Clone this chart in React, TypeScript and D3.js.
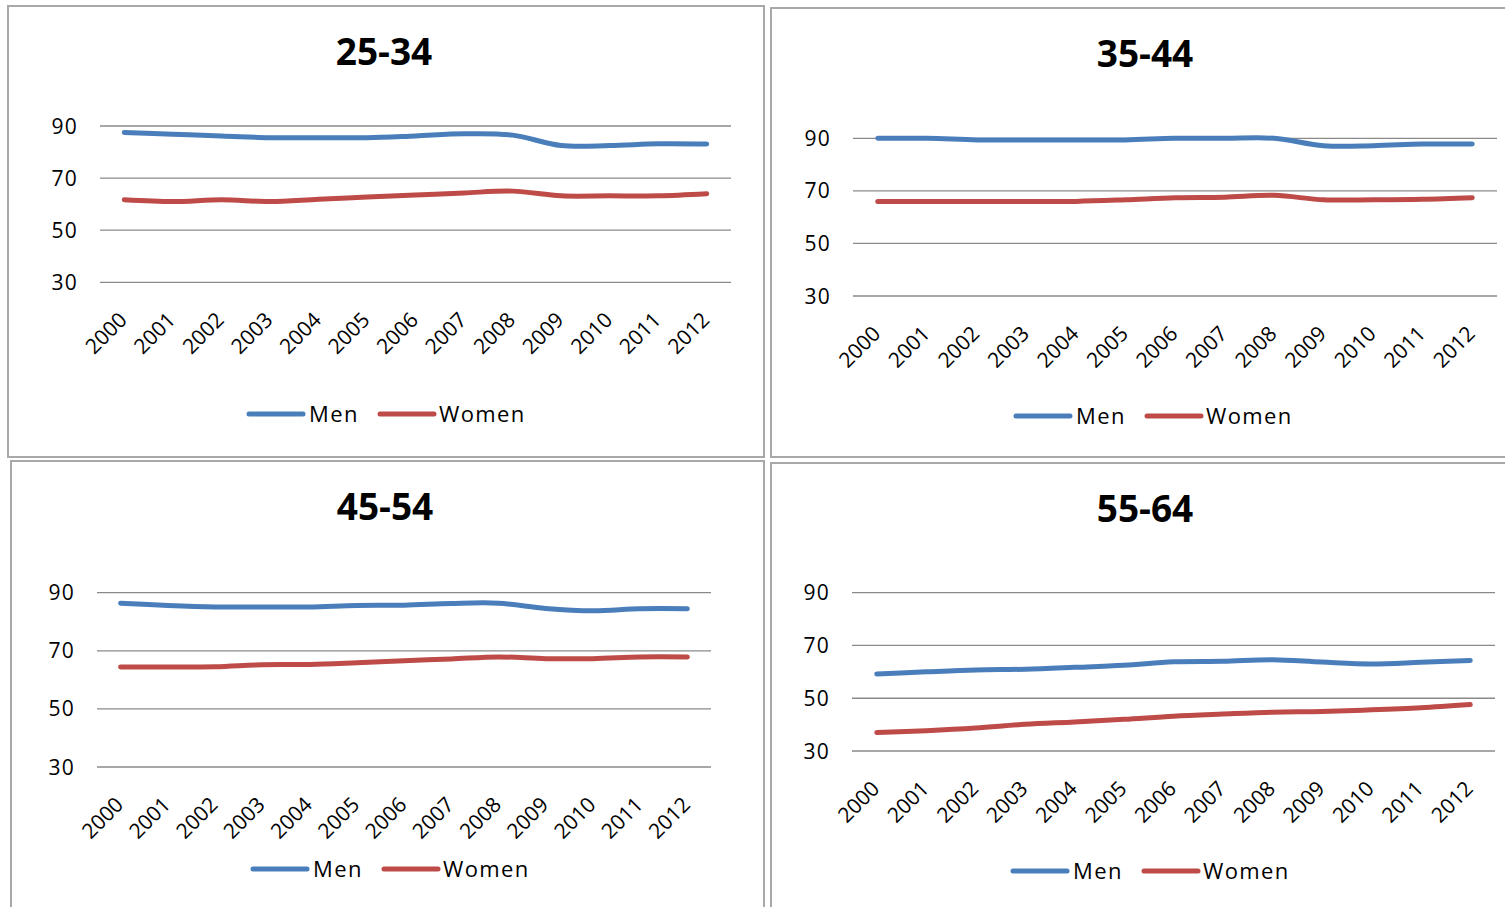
import React from 'react';
import * as d3 from 'd3';

// Categories and axis ticks
const years = ['2000', '2001', '2002', '2003', '2004', '2005', '2006', '2007', '2008', '2009', '2010', '2011', '2012'];
const yTicks = [30, 50, 70, 90];
const seriesNames = ['Men', 'Women'];
const panelTitles = ['25-34', '35-44', '45-54', '55-64'];

// Employment rates by age group (%)
const men2534 = [87.5, 86.8, 86.2, 85.5, 85.5, 85.5, 86.2, 87.0, 86.5, 82.5, 82.5, 83.2, 83.1];
const women2534 = [61.7, 61.0, 61.7, 61.0, 61.9, 62.7, 63.5, 64.3, 65.0, 63.2, 63.2, 63.2, 64.0];
const men3544 = [90.0, 90.0, 89.4, 89.4, 89.4, 89.4, 90.0, 90.0, 90.0, 87.2, 87.2, 87.8, 87.8];
const women3544 = [66.0, 66.0, 66.0, 66.0, 66.0, 66.6, 67.4, 67.6, 68.3, 66.6, 66.6, 66.8, 67.4];
const men4554 = [86.4, 85.6, 85.1, 85.1, 85.1, 85.6, 85.7, 86.3, 86.4, 84.6, 83.8, 84.5, 84.5];
const women4554 = [64.4, 64.4, 64.5, 65.2, 65.3, 65.9, 66.6, 67.2, 67.9, 67.3, 67.3, 67.9, 67.9];
const men5564 = [59.2, 60.0, 60.7, 61.0, 61.7, 62.5, 63.8, 64.0, 64.6, 63.7, 63.0, 63.6, 64.3];
const women5564 = [37.0, 37.7, 38.7, 40.1, 41.0, 42.0, 43.2, 44.0, 44.7, 45.0, 45.6, 46.4, 47.6];

const panelSeries = [
  [men2534, women2534],
  [men3544, women3544],
  [men4554, women4554],
  [men5564, women5564],
];

const COLORS = ['#4A7EBB', '#BE4B48'];
const FONT = "'Open Sans', 'DejaVu Sans', sans-serif";

// Frame, plot area, title and legend placement for each chart
const layouts = [
  { bx: 8, by: 6, bw: 756, bh: 451, x0: 100, x1: 731, yTop: 126, yBot: 282.3, titleX: 384, titleY: 65, legX: 249, legY: 414 },
  { bx: 771, by: 8, bw: 740, bh: 449, x0: 853, x1: 1497, yTop: 138.3, yBot: 296, titleX: 1145, titleY: 67, legX: 1016, legY: 416 },
  { bx: 11, by: 461, bw: 753, bh: 460, x0: 97, x1: 711, yTop: 592.7, yBot: 767, titleX: 385, titleY: 520, legX: 253, legY: 869 },
  { bx: 771, by: 463, bw: 740, bh: 460, x0: 852, x1: 1495, yTop: 592.7, yBot: 751, titleX: 1145, titleY: 522, legX: 1013, legY: 871 },
];

function Panel({ idx }: { idx: number }) {
  const L = layouts[idx];
  const data = panelSeries[idx];
  const x = d3.scalePoint<string>().domain(years).range([L.x0, L.x1]).padding(0.5);
  const y = d3.scaleLinear().domain([30, 90]).range([L.yBot, L.yTop]);
  const line = d3
    .line<number>()
    .x((_, i) => x(years[i]) as number)
    .y((d) => y(d))
    .curve(d3.curveCatmullRom.alpha(0.5));

  const legendItems = [
    { lineStart: 0, textStart: 60 },
    { lineStart: 131, textStart: 190 },
  ];

  return (
    <g>
      <rect x={L.bx} y={L.by} width={L.bw} height={L.bh} fill="#fff" stroke="#a8a8a8" strokeWidth={2} />
      <text
        x={L.titleX}
        y={L.titleY}
        textAnchor="middle"
        fontFamily={FONT}
        fontWeight="bold"
        fontSize={37}
        fill="#000"
      >
        {panelTitles[idx]}
      </text>
      {yTicks.map((t) => (
        <g key={t}>
          <line x1={L.x0} x2={L.x1} y1={y(t)} y2={y(t)} stroke="#8a8a8a" strokeWidth={1.3} />
          <text
            x={L.x0 - 22}
            y={y(t)}
            dy="0.36em"
            textAnchor="end"
            fontFamily={FONT}
            fontSize={21}
            fontWeight={500}
            letterSpacing={1.2}
            fill="#000"
          >
            {t}
          </text>
        </g>
      ))}
      {years.map((yr) => {
        const px = (x(yr) as number) + 4;
        const py = L.yBot + 39;
        return (
          <text
            key={yr}
            x={px}
            y={py}
            transform={`rotate(-45 ${px} ${py})`}
            textAnchor="end"
            fontFamily={FONT}
            fontSize={21}
            fontWeight={500}
            fill="#000"
          >
            {yr}
          </text>
        );
      })}
      {data.map((s, si) => (
        <path
          key={si}
          d={line(s) || ''}
          fill="none"
          stroke={COLORS[si]}
          strokeWidth={5}
          strokeLinecap="round"
          strokeLinejoin="round"
        />
      ))}
      {seriesNames.map((name, si) => (
        <g key={name}>
          <line
            x1={L.legX + legendItems[si].lineStart}
            x2={L.legX + legendItems[si].lineStart + 54}
            y1={L.legY}
            y2={L.legY}
            stroke={COLORS[si]}
            strokeWidth={5}
            strokeLinecap="round"
          />
          <text
            x={L.legX + legendItems[si].textStart}
            y={L.legY}
            dy="0.36em"
            fontFamily={FONT}
            fontSize={22}
            fontWeight={500}
            letterSpacing={1.4}
            fill="#000"
          >
            {name}
          </text>
        </g>
      ))}
    </g>
  );
}

export default function App() {
  return (
    <svg
      width={1505}
      height={907}
      viewBox="0 0 1505 907"
      style={{ position: 'absolute', left: 0, top: 0, display: 'block', background: '#fff' }}
    >
      <rect x={0} y={0} width={1505} height={907} fill="#fff" />
      {panelTitles.map((_, i) => (
        <Panel key={i} idx={i} />
      ))}
    </svg>
  );
}
